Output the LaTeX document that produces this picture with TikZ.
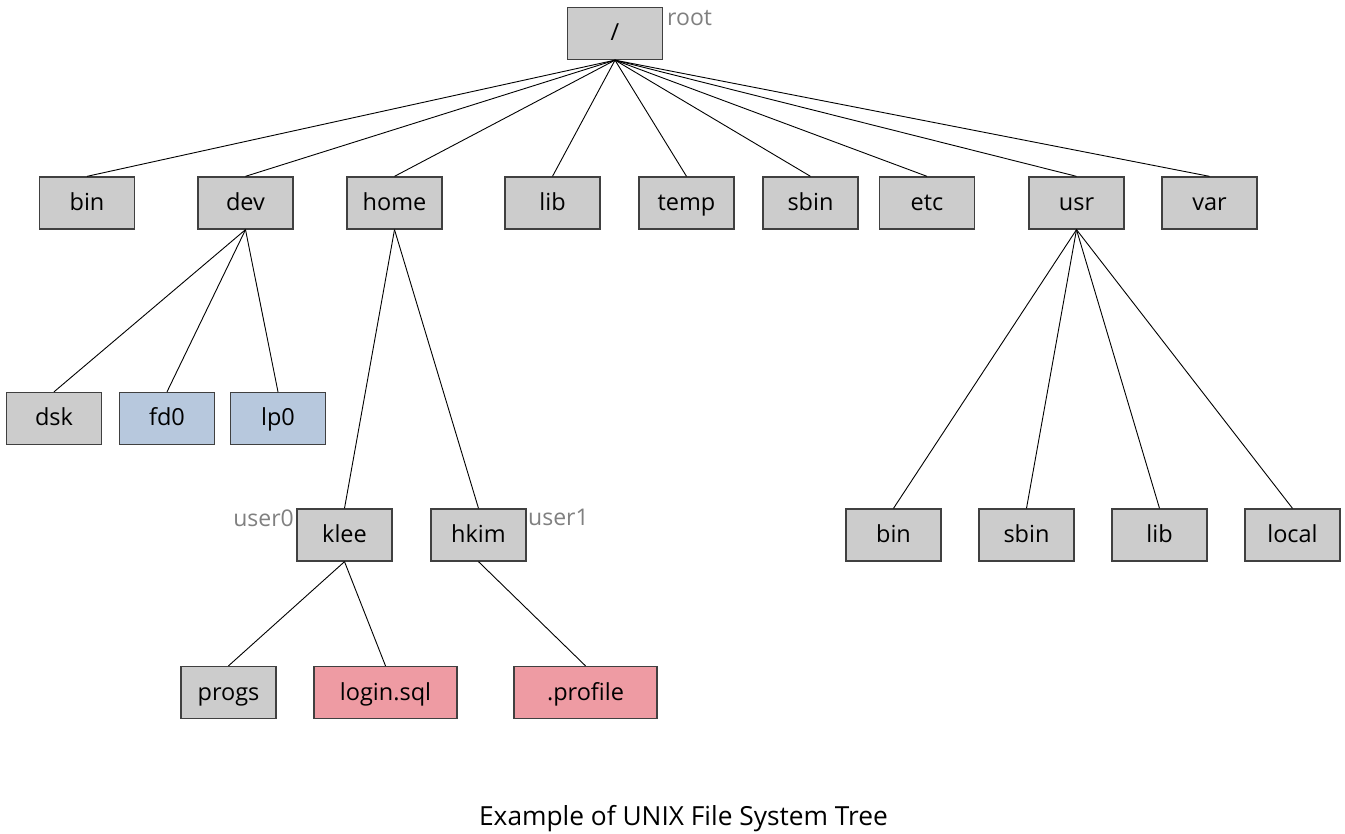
\documentclass[tikz,border=0pt]{standalone}
\usepackage{fontspec}
\setmainfont{Open Sans}
\begin{document}
\begin{tikzpicture}[x=1pt,y=-1pt,
  box/.style={draw=black!75,line width=1.3pt,fill=boxgrey,minimum width=95pt,minimum height=52pt,inner sep=0pt,text height=20pt,text depth=5pt,font=\fontsize{23.5}{28}\selectfont},
  blue/.style={box,fill=boxblue},
  pink/.style={box,fill=boxpink,minimum width=143pt},
  lbl/.style={text=black!50,font=\fontsize{23}{27}\selectfont,inner sep=0pt},
  edge/.style={draw=black,line width=0.9pt}]
\definecolor{boxgrey}{HTML}{CCCCCC}
\definecolor{boxblue}{HTML}{B7C8DD}
\definecolor{boxpink}{HTML}{EE9BA3}
\useasboundingbox (0,0) rectangle (1345,834);
\fill[white] (0,0) rectangle (1345,834);
\node[box] (root) at (615,33.5) {/};
\node[box] (bin) at (87,203) {bin};
\node[box] (dev) at (245.5,203) {dev};
\node[box] (home) at (394.5,203) {home};
\node[box] (lib) at (552.5,203) {lib};
\node[box] (temp) at (686.5,203) {temp};
\node[box] (sbin) at (810.5,203) {sbin};
\node[box] (etc) at (927,203) {etc};
\node[box] (usr) at (1076.5,203) {usr};
\node[box] (var) at (1209.5,203) {var};
\node[box] (dsk) at (54,418.5) {dsk};
\node[blue] (fd0) at (167,418.5) {fd0};
\node[blue] (lp0) at (278,418.5) {lp0};
\node[box] (klee) at (344.5,535) {klee};
\node[box] (hkim) at (478.5,535) {hkim};
\node[box] (ubin) at (893.5,535) {bin};
\node[box] (usbin) at (1026.5,535) {sbin};
\node[box] (ulib) at (1159.5,535) {lib};
\node[box] (ulocal) at (1292.5,535) {local};
\node[box] (progs) at (228.5,692.5) {progs};
\node[pink] (login) at (385.5,692.5) {login.sql};
\node[pink] (profile) at (585.5,692.5) {.profile};
\node[lbl,anchor=west] (rootl) at (667,18) {root};
\node[lbl,anchor=east] (user0) at (294,518) {user0};
\node[lbl,anchor=west] (user1) at (528,517) {user1};
\node[font=\fontsize{26.3}{31}\selectfont,inner sep=0pt] (cap) at (683.5,819) {Example of UNIX File System Tree};
\foreach \c in {bin,dev,home,lib,temp,sbin,etc,usr,var}
  \draw[edge] (root.south) -- (\c.north);
\foreach \c in {dsk,fd0,lp0}
  \draw[edge] (dev.south) -- (\c.north);
\foreach \c in {klee,hkim}
  \draw[edge] (home.south) -- (\c.north);
\foreach \c in {ubin,usbin,ulib,ulocal}
  \draw[edge] (usr.south) -- (\c.north);
\foreach \c in {progs,login}
  \draw[edge] (klee.south) -- (\c.north);
\draw[edge] (hkim.south) -- (profile.north);
\end{tikzpicture}
\end{document}
